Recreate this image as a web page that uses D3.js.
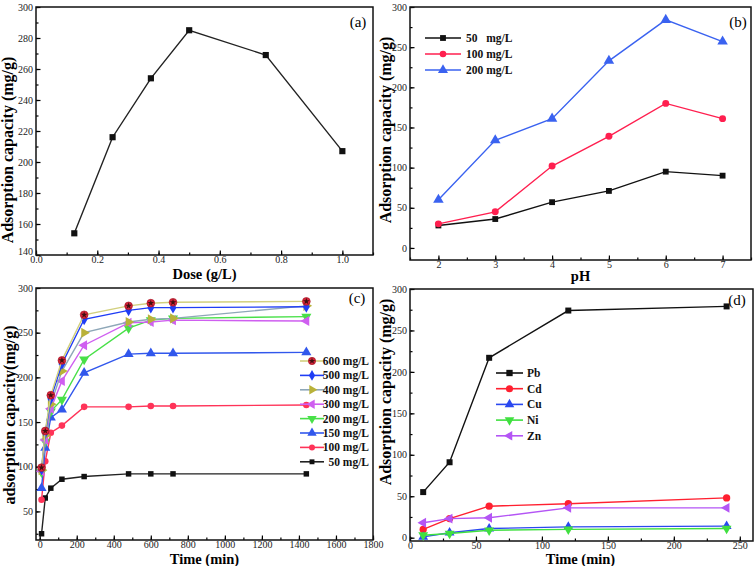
<!DOCTYPE html>
<html><head><meta charset="utf-8">
<script src="https://cdn.jsdelivr.net/npm/d3@7"></script>
<style>
html,body{margin:0;padding:0;background:#fff;}
svg{display:block;}
text{font-family:"Liberation Serif","Times New Roman",serif;}
</style></head>
<body>
<svg id="c" width="756" height="566"></svg>
<script>
// ---------- data ----------
// (a)
const doseX = [0.125, 0.25, 0.375, 0.5, 0.75, 1.0];
const doseY = [154, 216, 254, 285, 269, 207];
// (b)
const pHX = [2, 3, 4, 5, 6, 7];
const pH50 = [28, 36, 57, 71, 95, 90];
const pH100 = [30, 45, 102, 139, 180, 161];
const pH200 = [60, 134, 161, 233, 284, 257];
const legendB = ["50   mg/L", "100 mg/L", "200 mg/L"];
// (c)
const timeC = [10, 30, 60, 120, 240, 480, 600, 720, 1440];
const c600 = [99, 140, 180, 219, 270, 280, 283, 284, 285];
const c500 = [97, 138, 176, 215, 265, 275, 278, 278, 279];
const c400 = [96, 135, 170, 207, 250, 262, 265, 266, 280];
const c300 = [95, 130, 165, 196, 236, 261, 262, 264, 263];
const c200 = [94, 128, 162, 175, 220, 255, 264, 266, 268];
const c150 = [76, 121, 155, 164, 205, 226, 227, 227, 228];
const c100 = [63, 106, 138, 146, 167, 167, 168, 168, 169];
const c50 = [25, 65, 76, 86, 89, 92, 92, 92, 92];
const legendC = ["600 mg/L", "500 mg/L", "400 mg/L", "300 mg/L", "200 mg/L", "150 mg/L", "100 mg/L", "50 mg/L"];
// (d)
const timeD = [10, 30, 60, 120, 240];
const Pb = [55, 91, 217, 274, 279];
const Cd = [10, 23, 38, 41, 48];
const Cu = [1, 6, 11, 13, 14];
const Ni = [3, 5, 9, 10, 11];
const Zn = [18, 23, 24, 36, 36];
const legendD = ["Pb", "Cd", "Cu", "Ni", "Zn"];

// ticks
const xTicksA = [0, 0.2, 0.4, 0.6, 0.8, 1.0];
const yTicksA = [140, 160, 180, 200, 220, 240, 260, 280, 300];
const xTicksB = [2, 3, 4, 5, 6, 7];
const yTicksB = [0, 50, 100, 150, 200, 250, 300];
const xTicksC = [0, 200, 400, 600, 800, 1000, 1200, 1400, 1600, 1800];
const yTicksC = [50, 100, 150, 200, 250, 300];
const xTicksD = [0, 50, 100, 150, 200, 250];
const yTicksD = [0, 50, 100, 150, 200, 250, 300];

// ---------- drawing ----------
const svg = d3.select("#c");

function symbolPath(type, size) {
  const m = {square: d3.symbolSquare, circle: d3.symbolCircle, diamond: d3.symbolDiamond,
             tri: d3.symbolTriangle, triDown: d3.symbolTriangle, triLeft: d3.symbolTriangle,
             triRight: d3.symbolTriangle, star: d3.symbolCircle};
  return d3.symbol().type(m[type]).size(size)();
}
function rot(type) {
  return {triDown: 180, triLeft: -90, triRight: 90}[type] || 0;
}
function marker(g, type, cx, cy, color, size) {
  const s = size || 40;
  g.append("path").attr("d", symbolPath(type, s))
    .attr("transform", `translate(${cx},${cy}) rotate(${rot(type)})`)
    .attr("fill", color).attr("stroke", type === "star" ? "#a01020" : "none").attr("stroke-width", 0.6);
  if (type === "star") {
    g.append("path").attr("d", d3.symbol().type(d3.symbolStar).size(14)())
      .attr("transform", `translate(${cx},${cy})`).attr("fill", "#401010");
  }
}

function minorVals(d, step) {
  const out = [];
  for (let v = Math.ceil(d[0] / step) * step; v <= d[1] + 1e-9; v += step) out.push(+v.toFixed(6));
  return out;
}

function panel(o) {
  const g = svg.append("g");
  const x = d3.scaleLinear().domain(o.xd).range([o.x0, o.x1]);
  const y = d3.scaleLinear().domain(o.yd).range([o.y1, o.y0]);
  const fs = "10px";
  // minor ticks
  g.append("g").attr("transform", `translate(0,${o.y1})`)
    .call(d3.axisBottom(x).tickValues(minorVals(o.xd, o.xminor)).tickFormat("").tickSizeInner(-2.5).tickSizeOuter(0))
    .call(s => s.select(".domain").remove());
  g.append("g").attr("transform", `translate(${o.x0},0)`)
    .call(d3.axisLeft(y).tickValues(minorVals(o.yd, o.yminor)).tickFormat("").tickSizeInner(-2.5).tickSizeOuter(0))
    .call(s => s.select(".domain").remove());
  // major ticks
  const ax = g.append("g").attr("transform", `translate(0,${o.y1})`)
    .call(d3.axisBottom(x).tickValues(o.xt).tickFormat(o.xf).tickSizeInner(-4.5).tickSizeOuter(0).tickPadding(1));
  ax.select(".domain").remove();
  ax.selectAll("text").attr("font-size", fs).attr("font-family", "Liberation Serif").attr("fill", "#222");
  const ay = g.append("g").attr("transform", `translate(${o.x0},0)`)
    .call(d3.axisLeft(y).tickValues(o.yt).tickFormat(o.yf).tickSizeInner(-4.5).tickSizeOuter(0).tickPadding(3));
  ay.select(".domain").remove();
  ay.selectAll("text").attr("font-size", fs).attr("font-family", "Liberation Serif").attr("fill", "#222")
    .attr("dy", d => (d === o.yd[0] ? "-0.05em" : "0.32em"));
  g.selectAll(".tick line").attr("stroke", "#000").attr("stroke-width", 1.2);
  // frame
  g.append("rect").attr("x", o.x0).attr("y", o.y0).attr("width", o.x1 - o.x0).attr("height", o.y1 - o.y0)
    .attr("fill", "none").attr("stroke", "#111").attr("stroke-width", 1.5);
  // axis titles
  g.append("text").attr("x", (o.x0 + o.x1) / 2 + (o.xlOff || 0)).attr("y", o.xlY)
    .attr("text-anchor", "middle").attr("font-weight", "bold").attr("font-size", "14.5px").text(o.xl);
  g.append("text").attr("transform", `translate(${o.ylX},${o.ylY}) rotate(-90)`)
    .attr("text-anchor", "middle").attr("font-weight", "bold").attr("font-size", "16px").text(o.yl);
  // panel tag
  g.append("text").attr("x", o.tagX).attr("y", o.tagY).attr("text-anchor", "middle")
    .attr("font-size", "15px").text(o.tag);
  return {g, x, y};
}

function series(p, xs, ys, color, type, size, lineColor) {
  const pts = xs.map((v, i) => [v, ys[i]]);
  p.g.append("path").datum(pts)
    .attr("d", d3.line().x(d => p.x(d[0])).y(d => p.y(d[1])))
    .attr("fill", "none").attr("stroke", lineColor || color).attr("stroke-width", 1.4);
  pts.forEach(d => marker(p.g, type, p.x(d[0]), p.y(d[1]), color, size));
}

function legendRow(g, x0, x1, y, text, color, type, size, tx, anchor, lineColor) {
  g.append("line").attr("x1", x0).attr("x2", x1).attr("y1", y).attr("y2", y)
    .attr("stroke", lineColor || color).attr("stroke-width", 1.6);
  marker(g, type, (x0 + x1) / 2, y, color, size);
  g.append("text").attr("x", tx).attr("y", y + 4).attr("text-anchor", anchor || "start")
    .attr("font-weight", "bold").attr("font-size", "11.5px").attr("fill", "#111")
    .style("white-space", "pre").text(text);
}

// ---- (a) ----
const pa = panel({x0: 36, x1: 373, y0: 7, y1: 255, xd: [0, 1.1], yd: [140, 300],
  xt: xTicksA, yt: yTicksA, xf: d3.format(".1f"), yf: d3.format("d"), xminor: 0.1, yminor: 10,
  xl: "Dose (g/L)", xlY: 279, xlOff: 0, yl: "Adsorption capacity (mg/g)", ylX: 13, ylY: 150,
  tag: "(a)", tagX: 358, tagY: 27});
series(pa, doseX, doseY, "#111", "square", 38, "#222");

// ---- (b) ----
const pb = panel({x0: 410, x1: 751, y0: 7, y1: 260, xd: [1.5, 7.5], yd: [-15, 300],
  xt: xTicksB, yt: yTicksB, xf: d3.format("d"), yf: d3.format("d"), xminor: 0.5, yminor: 25,
  xl: "pH", xlY: 281, xlOff: 0, yl: "Adsorption capacity (mg/g)", ylX: 391, ylY: 130,
  tag: "(b)", tagX: 738, tagY: 27});
const colB = ["#111", "#ff1f4f", "#3a62f0"];
const typB = ["square", "circle", "tri"];
series(pb, pHX, pH50, colB[0], typB[0], 34);
series(pb, pHX, pH100, colB[1], typB[1], 38);
series(pb, pHX, pH200, colB[2], typB[2], 48);
legendB.forEach((t, i) => legendRow(pb.g, 425, 461, 38 + i * 16, t, colB[i], typB[i], i === 2 ? 44 : 34, 466, "start"));

// ---- (c) ----
const pc = panel({x0: 36, x1: 373, y0: 288, y1: 540, xd: [-20, 1800], yd: [18, 300],
  xt: xTicksC, yt: yTicksC, xf: d3.format("d"), yf: d3.format("d"), xminor: 100, yminor: 25,
  xl: "Time (min)", xlY: 564, xlOff: 0, yl: "adsorption capacity(mg/g)", ylX: 15, ylY: 415,
  tag: "(c)", tagX: 357, tagY: 303});
const serC = [c600, c500, c400, c300, c200, c150, c100, c50];
const colC = ["#d8243a", "#1f3df5", "#b9b23a", "#cf5ff0", "#48e048", "#3157ec", "#ff3358", "#111"];
const lineC = ["#d2d07e", "#1f3df5", "#8ea7b8", "#cf5ff0", "#48e048", "#3157ec", "#ff3358", "#222"];
const typC = ["star", "diamond", "triRight", "triLeft", "triDown", "tri", "circle", "square"];
const sizeC = [48, 40, 44, 44, 44, 44, 34, 30];
for (let i = serC.length - 1; i >= 0; i--) series(pc, timeC, serC[i], colC[i], typC[i], sizeC[i], lineC[i]);
legendC.forEach((t, i) => legendRow(pc.g, 300, 324, 361 + i * 14.4, t, colC[i], typC[i], sizeC[i] - 6, 369, "end", lineC[i]));

// ---- (d) ----
const pd = panel({x0: 410, x1: 753, y0: 289, y1: 541, xd: [0, 260], yd: [-4, 300],
  xt: xTicksD, yt: yTicksD, xf: d3.format("d"), yf: d3.format("d"), xminor: 25, yminor: 25,
  xl: "Time (min)", xlY: 564, xlOff: -1, yl: "Adsorption capacity (mg/g)", ylX: 391, ylY: 392,
  tag: "(d)", tagX: 737, tagY: 305});
const serD = [Pb, Cd, Cu, Ni, Zn];
const colD = ["#111", "#ff2030", "#2a48f0", "#40e040", "#b455f5"];
const typD = ["square", "circle", "tri", "triDown", "triLeft"];
serD.forEach((s, i) => series(pd, timeD, s, colD[i], typD[i], i === 0 ? 36 : 42));
legendD.forEach((t, i) => legendRow(pd.g, 496, 523, 373 + i * 15.7, t, colD[i], typD[i], 40, 527, "start"));
</script>
</body></html>
